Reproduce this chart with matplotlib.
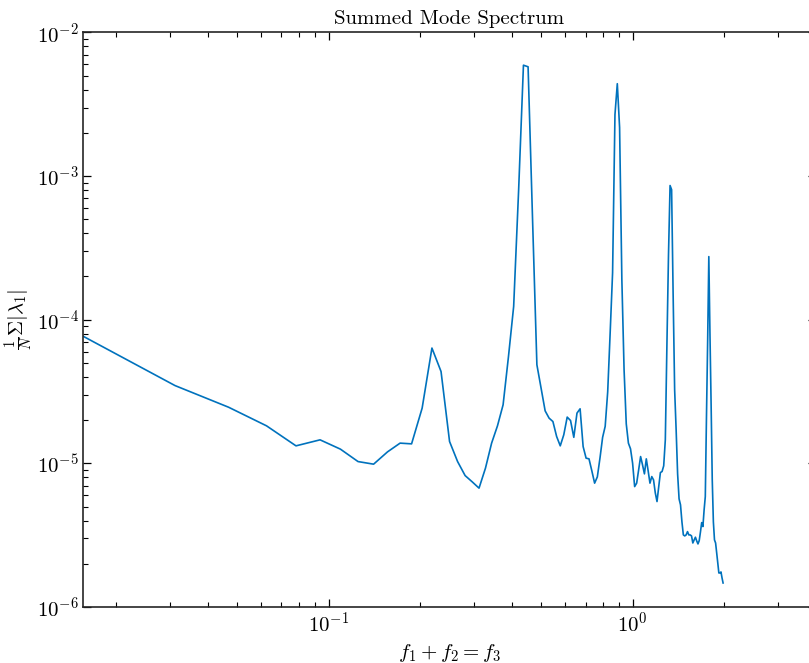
import numpy as np
import matplotlib
matplotlib.use("Agg")
import matplotlib.pyplot as plt

plt.rcParams["font.family"] = "cmr10"
plt.rcParams["mathtext.fontset"] = "cm"
plt.rcParams["axes.formatter.use_mathtext"] = True
plt.rcParams["font.size"] = 15

# summed |lambda_1| per frequency bin (bins of 1/64)
amp = [
    7.65e-5, 3.48e-5, 2.46e-5, 1.825e-5, 1.324e-5, 1.458e-5, 1.256e-5, 1.029e-5,
    9.87e-6, 1.202e-5, 1.383e-5, 1.367e-5, 2.425e-5, 6.35e-5, 4.36e-5, 1.419e-5,
    1.03e-5, 8.22e-6, 7.43e-6, 6.72e-6, 9.26e-6, 1.383e-5, 1.825e-5, 2.557e-5,
    5.55e-5, 1.238e-4, 8.05e-4, 5.92e-3, 5.77e-3, 4.98e-4, 4.86e-5, 3.34e-5,
    2.32e-5, 2.065e-5, 1.955e-5, 1.538e-5, 1.324e-5, 1.58e-5, 2.099e-5, 1.987e-5,
    1.518e-5, 2.238e-5, 2.398e-5, 1.309e-5, 1.087e-5, 1.075e-5, 8.87e-6, 7.28e-6,
    8.05e-6, 1.092e-5, 1.518e-5, 1.81e-5, 3.15e-5, 8.12e-5, 2.126e-4, 2.683e-3,
    4.4e-3, 2.178e-3, 1.90e-4, 4.48e-5, 1.884e-5, 1.383e-5, 1.262e-5, 1.003e-5,
    6.89e-6, 7.28e-6, 9.01e-6, 1.115e-5, 9.76e-6, 8.45e-6, 1.075e-5, 8.87e-6,
    7.28e-6, 8.09e-6, 7.67e-6, 6.23e-6, 5.42e-6, 6.86e-6, 8.63e-6, 8.77e-6,
    9.61e-6, 1.458e-5, 6.70e-5, 2.838e-4, 8.6e-4, 8.05e-4, 1.493e-4, 3.25e-5,
    1.712e-5, 8.45e-6, 5.66e-6, 5.14e-6, 3.91e-6, 3.175e-6, 3.125e-6, 3.175e-6,
    3.347e-6, 3.175e-6, 3.175e-6, 3.125e-6, 2.79e-6, 2.93e-6, 3.06e-6, 2.884e-6,
    2.748e-6, 2.897e-6, 3.33e-6, 3.868e-6, 3.63e-6, 4.74e-6, 5.87e-6, 2.143e-5,
    7.14e-5, 2.75e-4, 7.86e-5, 2.557e-5, 7.67e-6, 3.91e-6, 2.93e-6, 2.79e-6,
    2.378e-6, 2.025e-6, 1.725e-6, 1.725e-6, 1.753e-6, 1.592e-6, 1.469e-6,
]
# frequency grid f1 + f2, spacing 1/64
freq = np.arange(1, len(amp) + 1) / 64

fig = plt.figure(figsize=(8.09, 6.63), dpi=100)
ax = fig.add_axes([0.1032, 0.0845, 0.905, 0.8665])

ax.loglog(freq, amp, color="#0072BD", linewidth=1.2)

ax.set_xlim(1 / 64, 4)
ax.set_ylim(1e-6, 1e-2)

ax.tick_params(which="both", direction="in", top=True, right=True, colors="k")
ax.tick_params(which="major", length=6, width=0.9)
ax.tick_params(which="minor", length=3.5, width=0.8)
for sp in ax.spines.values():
    sp.set_linewidth(1.2)
    sp.set_color("#262626")

ax.set_title("Summed Mode Spectrum", fontsize=15)
ax.set_xlabel(r"$f_1 + f_2 = f_3$", fontsize=15)
ax.set_ylabel(r"$\frac{1}{N}\Sigma|\lambda_1|$", fontsize=15, labelpad=1)

fig.savefig("out.png", dpi=100)
